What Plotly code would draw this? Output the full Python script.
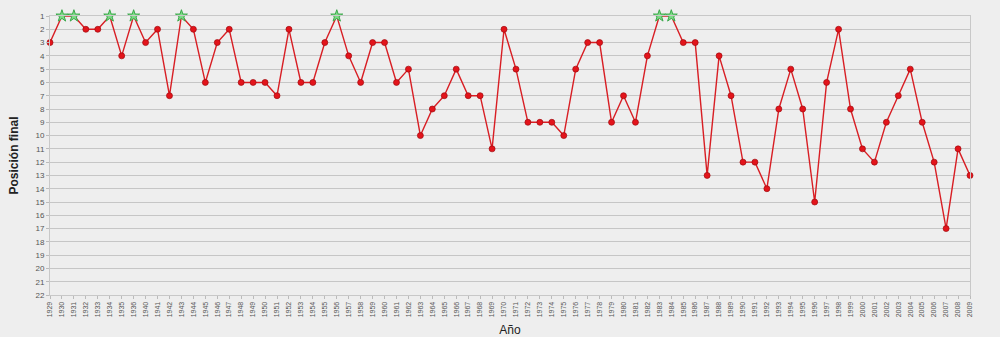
import plotly.graph_objects as go

years = [str(y) for y in list(range(1929, 1937)) + list(range(1940, 2010))]
positions = [3, 1, 1, 2, 2, 1, 4, 1,
             3, 2, 7, 1, 2, 6, 3, 2, 6, 6,
             6, 7, 2, 6, 6, 3, 1, 4, 6, 3,
             3, 6, 5, 10, 8, 7, 5, 7, 7, 11,
             2, 5, 9, 9, 9, 10, 5, 3, 3, 9,
             7, 9, 4, 1, 1, 3, 3, 13, 4, 7,
             12, 12, 14, 8, 5, 8, 15, 6, 2, 8,
             11, 12, 9, 7, 5, 9, 12, 17, 11, 13]
y_ticks = list(range(1, 23))

champ_x = [x for x, p in zip(years, positions) if p == 1]
champ_y = [p for p in positions if p == 1]
other_x = [x for x, p in zip(years, positions) if p != 1]
other_y = [p for p in positions if p != 1]

fig = go.Figure()
fig.add_trace(go.Scatter(x=years, y=positions, mode="lines",
                         line=dict(color="#d81e24", width=1.4),
                         hoverinfo="skip", showlegend=False, cliponaxis=False))
fig.add_trace(go.Scatter(x=other_x, y=other_y, mode="markers",
                         marker=dict(color="#e3141b", size=6,
                                     line=dict(color="#a00a0e", width=0.7)),
                         showlegend=False, cliponaxis=False))
fig.add_trace(go.Scatter(x=champ_x, y=champ_y, mode="markers",
                         marker=dict(symbol="star", color="#7ddc86", size=9,
                                     line=dict(color="#3aa84a", width=1)),
                         showlegend=False, cliponaxis=False))

bg = "#eeeeee"
fig.update_layout(
    width=1000, height=337,
    margin=dict(l=50, r=30, t=16, b=42),
    paper_bgcolor=bg, plot_bgcolor=bg,
    font=dict(family="Liberation Sans, Arial, sans-serif", color="#333333"),
    xaxis=dict(type="category", categoryorder="array", categoryarray=years,
               range=[0, len(years) - 1], automargin=False,
               tickangle=-90, tickfont=dict(size=7, color="#555555"),
               showgrid=False, ticks="outside", ticklen=3, tickcolor="#bbbbbb",
               showline=True, linecolor="#c8c8c8", linewidth=1, mirror=True,
               title=dict(text="Año", font=dict(size=12, color="#222222"), standoff=12),
               zeroline=False),
    yaxis=dict(range=[22, 1], tickmode="array", tickvals=y_ticks, automargin=False,
               ticktext=[str(v) for v in y_ticks],
               tickfont=dict(size=8, color="#555555"),
               showgrid=True, gridcolor="#c6c6c6", gridwidth=1,
               ticks="outside", ticklen=3, tickcolor="#bbbbbb",
               showline=True, linecolor="#c8c8c8", linewidth=1, mirror=True,
               title=dict(text="<b>Posición final</b>", font=dict(size=12, color="#222222"), standoff=14),
               zeroline=False),
)

fig.write_html("out.html")
